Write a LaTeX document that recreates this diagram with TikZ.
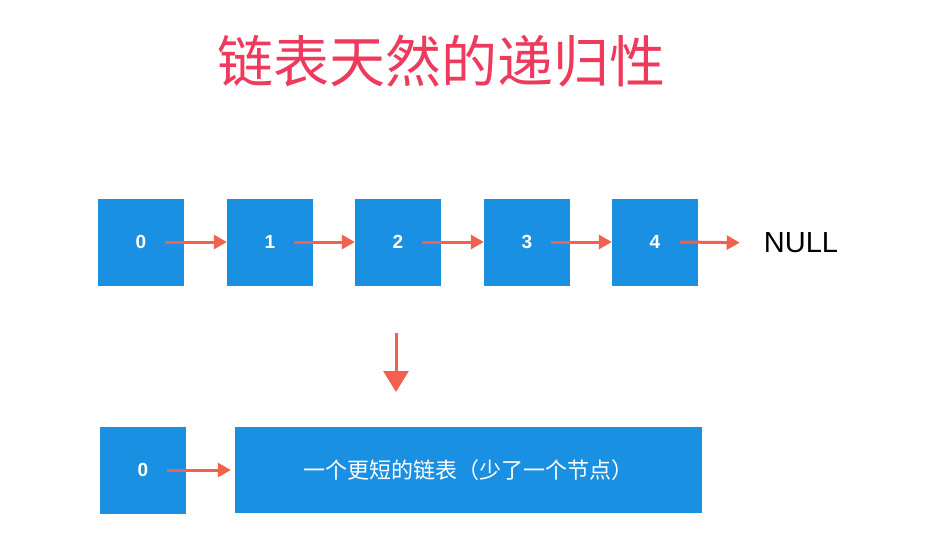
\documentclass[tikz,border=0pt]{standalone}
\usepackage{fontspec}
\setmainfont{Liberation Sans}
\newfontfamily\cjk{Noto Sans CJK SC}
\usetikzlibrary{arrows.meta}
\definecolor{boxblue}{HTML}{1A90E2}
\definecolor{arrred}{HTML}{F2604E}
\definecolor{titlered}{HTML}{EE3A5C}
\tikzset{
  listbox/.style={fill=boxblue, draw=none, minimum width=86pt, minimum height=87pt, inner sep=0pt, text=white, font=\fontsize{19}{19}\selectfont\bfseries},
  bigbox/.style={fill=boxblue, draw=none, minimum width=467pt, minimum height=86pt, inner sep=0pt, text=white, font=\cjk\fontsize{22}{22}\selectfont},
  link/.style={draw=arrred, line width=3pt, -{Triangle[length=13pt,width=14pt]}},
  bigarrow/.style={draw=arrred, line width=3pt, -{Triangle[length=21pt,width=25pt]}},
}
\begin{document}
\begin{tikzpicture}[x=1pt,y=-1pt]
\useasboundingbox (0,0) rectangle (926,554);
\node[text=titlered, font=\cjk\fontsize{56}{56}\selectfont] (title) at (441,61) {链表天然的递归性};
\node[listbox] (b0) at (141,242) {0};
\node[listbox] (b1) at (270,242) {1};
\node[listbox] (b2) at (398,242) {2};
\node[listbox] (b3) at (527,242) {3};
\node[listbox] (b4) at (655,242) {4};
\node[font=\fontsize{29}{29}\selectfont, inner sep=0pt] (null) at (801,243) {NULL};
\coordinate (s0) at (165,242);
\coordinate (s1) at (294,242);
\coordinate (s2) at (422,242);
\coordinate (s3) at (551,242);
\coordinate (s4) at (680,242);
\draw[link] (s0) -- (b1.west);
\draw[link] (s1) -- (b2.west);
\draw[link] (s2) -- (b3.west);
\draw[link] (s3) -- (b4.west);
\draw[link, shorten >=24pt] (s4) -- (null.west);
\coordinate (dtop) at (396,333);
\coordinate (dbot) at (396,392);
\draw[bigarrow] (dtop) -- (dbot);
\node[listbox] (c0) at (143,470) {0};
\node[bigbox] (rest) at (468.5,470) {一个更短的链表（少了一个节点）};
\coordinate (t0) at (167,470);
\draw[link, shorten >=4pt] (t0) -- (rest.west);
\end{tikzpicture}
\end{document}
